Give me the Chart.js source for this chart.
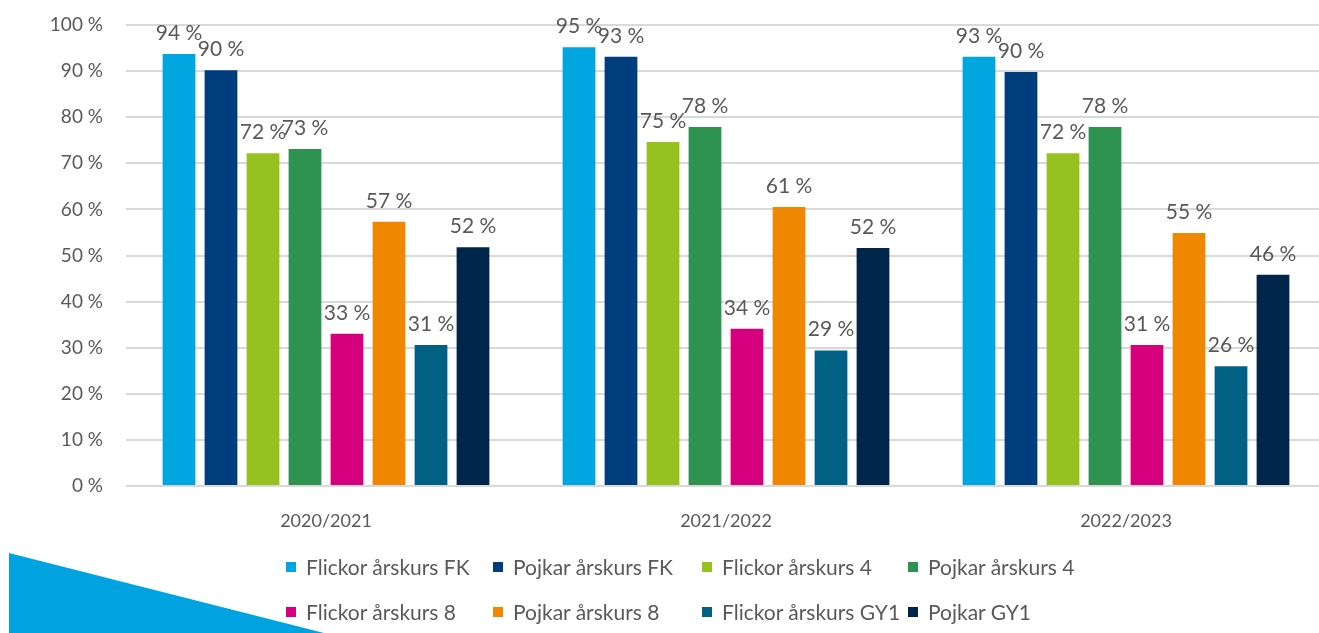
<!DOCTYPE html>
<html>
<head>
<meta charset="utf-8">
<script src="https://cdn.jsdelivr.net/npm/chart.js@4.4.0/dist/chart.umd.min.js"></script>
<style>
    html, body { margin: 0; padding: 0; background: #fff; overflow: hidden; }
    #wrap { position: relative; width: 1326px; height: 633px; }
    #corner {
        position: absolute; left: 9px; top: 553px; width: 315px; height: 80px;
        background: #00a3e0; clip-path: polygon(0 0, 100% 100%, 0 100%);
    }
    #legend {
        position: absolute; left: 286px; top: 554px;
        display: grid; grid-template-columns: 207px 209px 206px 207px;
        row-gap: 20px;
        font-family: Lato, sans-serif; font-size: 21px; color: #595959;
    }
    .item { display: flex; align-items: center; height: 25px; white-space: nowrap; }
    .box { width: 10px; height: 10px; margin-right: 10px; flex: none; }
</style>
</head>
<body>
<div id="wrap">
    <div id="corner"></div>
    <canvas id="myChart" width="1326" height="633"></canvas>
    <div id="legend"></div>
</div>
<script>
// school years on the x axis
const years = ['2020/2021', '2021/2022', '2022/2023'];

// share per group, percent
const flickorFK  = [93.7, 95.2, 93.1];
const pojkarFK   = [90.2, 93.1, 89.8];
const flickor4   = [72.2, 74.6, 72.2];
const pojkar4    = [73.1, 77.9, 77.9];
const flickor8   = [33.0, 34.1, 30.6];
const pojkar8    = [57.3, 60.5, 54.9];
const flickorGY1 = [30.6, 29.4, 26.0];
const pojkarGY1  = [51.8, 51.6, 45.8];

const yTicks = [0, 10, 20, 30, 40, 50, 60, 70, 80, 90, 100];

const series = [
    { label: 'Flickor årskurs FK',  data: flickorFK,  color: '#00a6e0' },
    { label: 'Pojkar årskurs FK',   data: pojkarFK,   color: '#003d7c' },
    { label: 'Flickor årskurs 4',   data: flickor4,   color: '#97c11f' },
    { label: 'Pojkar årskurs 4',    data: pojkar4,    color: '#2e9350' },
    { label: 'Flickor årskurs 8',   data: flickor8,   color: '#d6007f' },
    { label: 'Pojkar årskurs 8',    data: pojkar8,    color: '#f08700' },
    { label: 'Flickor årskurs GY1', data: flickorGY1, color: '#006184' },
    { label: 'Pojkar GY1',          data: pojkarGY1,  color: '#00254a' }
];

const textColor = '#595959';
const fontFamily = 'Lato, sans-serif';

// value labels above each bar
const barLabels = {
    id: 'barLabels',
    afterDatasetsDraw(chart) {
        const ctx = chart.ctx;
        ctx.save();
        ctx.font = '21px ' + fontFamily;
        ctx.fillStyle = textColor;
        ctx.textAlign = 'center';
        ctx.textBaseline = 'alphabetic';
        chart.data.datasets.forEach((ds, i) => {
            chart.getDatasetMeta(i).data.forEach((bar, j) => {
                ctx.fillText(Math.round(ds.data[j]) + ' %', bar.x, bar.y - 14);
            });
        });
        ctx.restore();
    }
};

const ctx = document.getElementById('myChart').getContext('2d');
const chart = new Chart(ctx, {
    type: 'bar',
    data: {
        labels: years,
        datasets: series.map(s => ({
            label: s.label,
            data: s.data,
            backgroundColor: s.color,
            borderWidth: 0,
            categoryPercentage: 0.84,
            barPercentage: 0.78
        }))
    },
    options: {
        responsive: false,
        animation: false,
        layout: { padding: { top: 25, right: 0, bottom: 97, left: 0 } },
        plugins: {
            legend: { display: false },
            tooltip: { enabled: false }
        },
        scales: {
            x: {
                grid: { display: false },
                border: { display: false },
                ticks: {
                    color: textColor,
                    font: { family: fontFamily, size: 18 },
                    padding: 16
                },
                afterFit: scale => {
                    scale.height = 50;
                    scale.paddingLeft = 0;
                    scale.paddingRight = 0;
                }
            },
            y: {
                min: 0,
                max: 100,
                afterBuildTicks: scale => {
                    scale.ticks = yTicks.map(v => ({ value: v }));
                },
                grid: { color: '#d9d9d9', lineWidth: 2, drawTicks: false },
                border: { display: false },
                ticks: {
                    color: textColor,
                    font: { family: fontFamily, size: 19 },
                    padding: 23,
                    callback: v => v + ' %'
                },
                afterFit: scale => {
                    scale.width = 126;
                    scale.paddingTop = 0;
                    scale.paddingBottom = 0;
                }
            }
        }
    },
    plugins: [barLabels]
});

// legend, two rows of four
const legend = document.getElementById('legend');
series.forEach(s => {
    const item = document.createElement('div');
    item.className = 'item';
    const box = document.createElement('span');
    box.className = 'box';
    box.style.background = s.color;
    const txt = document.createElement('span');
    txt.textContent = s.label;
    item.appendChild(box);
    item.appendChild(txt);
    legend.appendChild(item);
});
</script>
</body>
</html>
